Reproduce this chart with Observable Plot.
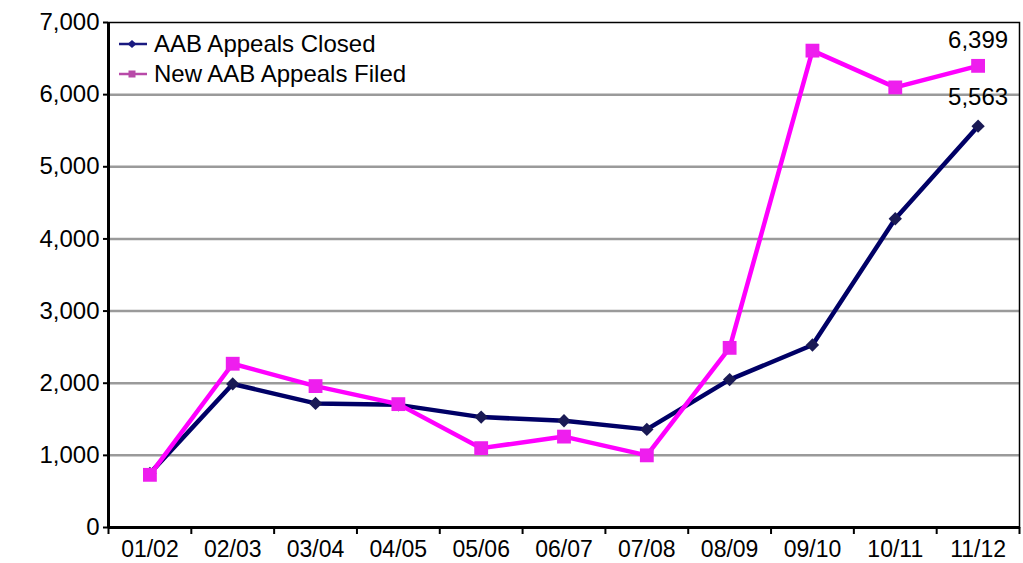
<!DOCTYPE html>
<html>
<head>
<meta charset="utf-8">
<script src="https://cdn.jsdelivr.net/npm/d3@7"></script>
<script src="https://cdn.jsdelivr.net/npm/@observablehq/plot@0.6"></script>
<style>
  html, body { margin: 0; padding: 0; background: white; }
  #wrap { position: relative; width: 1023px; height: 563px; font-family: "Liberation Sans", Arial, Helvetica, sans-serif; }
  #legend { position: absolute; left: 118px; top: 29px; font-size: 24px; color: black; }
  .item { display: flex; align-items: center; height: 30px; }
  .item svg { margin-right: 6px; }
</style>
</head>
<body>
<div id="wrap">
  <div id="chart"></div>
  <div id="legend"></div>
</div>
<script>
const categories = ["01/02", "02/03", "03/04", "04/05", "05/06", "06/07", "07/08", "08/09", "09/10", "10/11", "11/12"];
const appealsClosed = [750, 1990, 1720, 1700, 1530, 1480, 1360, 2050, 2530, 4280, 5563];
const appealsFiled = [730, 2270, 1960, 1710, 1100, 1260, 1000, 2490, 6610, 6100, 6399];
const yTicks = [0, 1000, 2000, 3000, 4000, 5000, 6000, 7000];
const seriesNames = ["AAB Appeals Closed", "New AAB Appeals Filed"];

const n = categories.length;
const data = categories.map((c, i) => ({i, c, closed: appealsClosed[i], filed: appealsFiled[i]}));
const last = data[n - 1];
const fmt = d3.format(",");

const chart = Plot.plot({
  width: 1023,
  height: 563,
  marginLeft: 108,
  marginRight: 4,
  marginTop: 22,
  marginBottom: 36,
  style: {fontFamily: "'Liberation Sans', Arial, Helvetica, sans-serif", fontSize: "23px", color: "black", background: "white", overflow: "visible"},
  x: {type: "linear", domain: [0, n]},
  y: {domain: [0, 7000]},
  marks: [
    Plot.ruleY(yTicks.filter(t => t > 0 && t < 7000), {stroke: "#9a9a9a", strokeWidth: 2.5}),
    Plot.frame({stroke: "black", strokeWidth: 1.5}),
    Plot.axisY({ticks: yTicks, tickFormat: v => fmt(v), tickSize: 5, tickPadding: 4, stroke: "black", strokeWidth: 2, fontSize: 24}),
    Plot.axisX({ticks: d3.range(0, n + 1), tickFormat: () => "", tickSize: 7, stroke: "black", strokeWidth: 2}),
    Plot.axisX({ticks: data.map(d => d.i + 0.5), tickFormat: v => categories[Math.floor(v)], tickSize: 0, tickPadding: 13}),
    Plot.ruleX([0], {stroke: "black", strokeWidth: 3}),
    Plot.ruleY([0], {stroke: "black", strokeWidth: 3}),
    Plot.line(data, {x: d => d.i + 0.5, y: "closed", stroke: "#000066", strokeWidth: 4.5}),
    Plot.line(data, {x: d => d.i + 0.5, y: "filed", stroke: "#ff00ff", strokeWidth: 4.5}),
    Plot.dot(data, {x: d => d.i + 0.5, y: "closed", symbol: "diamond2", r: 6, fill: "#1a1a55"}),
    Plot.dot(data, {x: d => d.i + 0.5, y: "filed", symbol: "square", r: 7.8, fill: "#ee1eee"}),
    Plot.text([last], {x: d => d.i + 0.5, y: "filed", text: d => fmt(d.filed), dy: -18, lineAnchor: "bottom", fontSize: 24, fill: "black"}),
    Plot.text([last], {x: d => d.i + 0.5, y: "closed", text: d => fmt(d.closed), dy: -21, lineAnchor: "bottom", fontSize: 24, fill: "black"})
  ]
});
document.getElementById("chart").appendChild(chart);

const legendSpecs = [
  {name: seriesNames[0], color: "#1a1a80", marker: "diamond"},
  {name: seriesNames[1], color: "#b84aa8", marker: "square"}
];
const legend = document.getElementById("legend");
for (const s of legendSpecs) {
  const item = document.createElement("div");
  item.className = "item";
  const markerSvg = s.marker === "diamond"
    ? `<polygon points="14,4 18.5,8 14,12 9.5,8" fill="${s.color}"/>`
    : `<rect x="10.5" y="4.5" width="7" height="7" fill="${s.color}"/>`;
  item.innerHTML = `<svg width="30" height="16" viewBox="0 0 30 16"><line x1="1" y1="8" x2="29" y2="8" stroke="${s.color}" stroke-width="2.5"/>${markerSvg}</svg><span>${s.name}</span>`;
  legend.appendChild(item);
}
</script>
</body>
</html>
